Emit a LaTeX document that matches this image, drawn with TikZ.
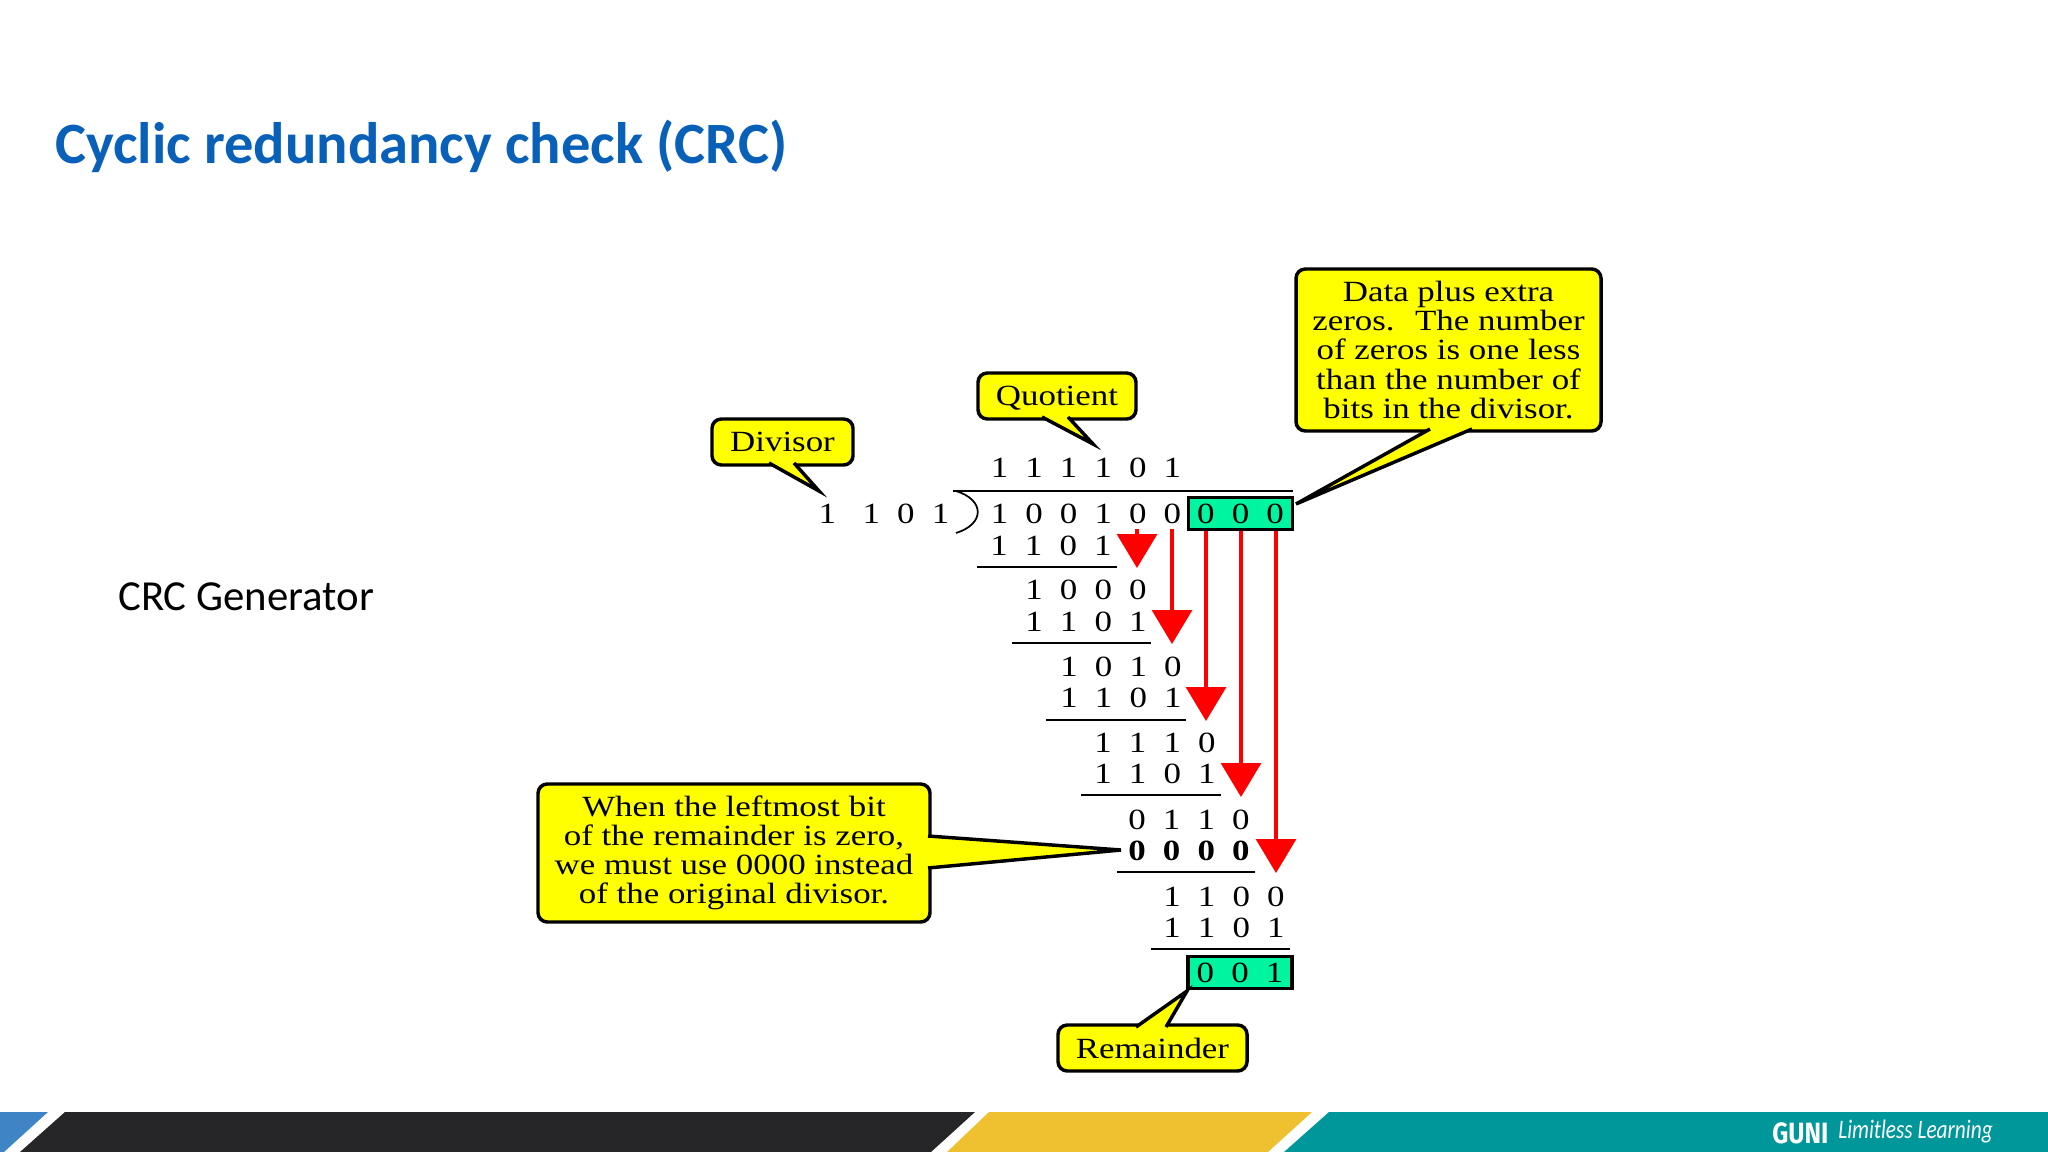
\documentclass[tikz,border=0pt]{standalone}
\usepackage{fontspec}
\usepackage{tikz}
\usetikzlibrary{arrows.meta}
\setmainfont{Carlito}
\newfontfamily\figfont[FakeStretch=1.19]{Liberation Serif}
\newfontfamily\logofont[FakeStretch=0.85]{Fira Sans}
\newfontfamily\mottofont[FakeStretch=0.8]{Carlito}
\definecolor{titleblue}{RGB}{8,96,184}
\definecolor{barblue}{RGB}{63,133,198}
\definecolor{bardark}{RGB}{38,38,40}
\definecolor{baryellow}{RGB}{239,192,48}
\definecolor{barteal}{RGB}{0,151,155}
\definecolor{bitgreen}{RGB}{0,245,160}
\definecolor{noteyellow}{RGB}{255,255,0}
\tikzset{
   bitrow/.style={inner sep=0pt,font=\figfont\fontsize{22}{24}\selectfont,execute at begin node={\spaceskip=12.85pt\relax}},
   bitbox/.style={bitrow,draw=black,line width=2.8pt,fill=bitgreen,minimum width=78pt,minimum height=24pt},
   note/.style={draw=black,line width=2.6pt,fill=noteyellow,rounded corners=7pt,inner sep=0pt,align=center,font=\figfont\fontsize{22}{21.8}\selectfont},
   tail/.style={draw=black,line width=2.6pt,fill=noteyellow,line join=miter},
   rule/.style={line width=1.5pt},
   drop/.style={red,line width=2.4pt,-{Triangle[length=25.5pt,width=30pt]}}
}
\begin{document}
\begin{tikzpicture}[x=0.75pt,y=-0.75pt]
   \useasboundingbox (0,0) rectangle (2048,1152);

   \node[anchor=west,inner sep=0pt,text=titleblue,font=\bfseries\fontsize{43.9}{46}\selectfont] (title) at (55,146) {Cyclic redundancy check (CRC)};
   \node[anchor=west,inner sep=0pt,font=\fontsize{32.1}{36}\selectfont] (side) at (118,597) {CRC Generator};

   \fill[barblue] (0,1112) -- (48,1112) -- (4,1152) -- (0,1152) -- cycle;
   \fill[bardark] (65,1112) -- (975,1112) -- (931,1152) -- (20,1152) -- cycle;
   \fill[baryellow] (989,1112) -- (1312,1112) -- (1268,1152) -- (947,1152) -- cycle;
   \fill[barteal] (1329,1112) -- (2048,1112) -- (2048,1152) -- (1284,1152) -- cycle;
   \node[anchor=west,inner sep=0pt,text=white,font=\logofont\bfseries\fontsize{22}{24}\selectfont] (guni) at (1772,1133) {GUNI};
   \node[anchor=west,inner sep=0pt,text=white,font=\mottofont\itshape\fontsize{20}{22}\selectfont] (motto) at (1838,1132) {Limitless Learning};

   \node[bitrow] (quotient) at (1086,468) {1 1 1 1 0 1};
   \node[bitrow] (divisor) at (884,514) {1\hspace{7pt} 1 0 1};
   \node[bitrow] (dividend) at (1086,514) {1 0 0 1 0 0};
   \node[bitrow] (sub1) at (1051,546) {1 1 0 1};
   \node[bitrow] (rem1) at (1086,590) {1 0 0 0};
   \node[bitrow] (sub2) at (1086,622) {1 1 0 1};
   \node[bitrow] (rem2) at (1121,667) {1 0 1 0};
   \node[bitrow] (sub3) at (1121,698) {1 1 0 1};
   \node[bitrow] (rem3) at (1155,743) {1 1 1 0};
   \node[bitrow] (sub4) at (1155,774) {1 1 0 1};
   \node[bitrow] (rem4) at (1189,820) {0 1 1 0};
   \node[bitrow] (sub5) at (1189,851) {\bfseries 0 0 0 0};
   \node[bitrow] (rem5) at (1224,897) {1 1 0 0};
   \node[bitrow] (sub6) at (1224,928) {1 1 0 1};

   \draw[rule] (953,491) -- (1293,491);
   \draw[line width=1.3pt] (956,491) .. controls (985,500) and (985,524) .. (956,533);
   \draw[rule] (977,567) -- (1117,567);
   \draw[rule] (1012,643) -- (1151,643);
   \draw[rule] (1046,720) -- (1186,720);
   \draw[rule] (1081,795) -- (1221,795);
   \draw[rule] (1117,872) -- (1255,872);
   \draw[rule] (1151,949) -- (1290,949);

   \coordinate (start1) at (1137,529);
   \coordinate (start2) at (1172,529);
   \coordinate (start3) at (1206,529);
   \coordinate (start4) at (1241,529);
   \coordinate (start5) at (1276,529);
   \coordinate (end1) at (1137,568);
   \coordinate (end2) at (1172,644);
   \coordinate (end3) at (1206,721);
   \coordinate (end4) at (1241,797);
   \coordinate (end5) at (1276,873);
   \draw[drop] (start1) -- (end1);
   \draw[drop] (start2) -- (end2);
   \draw[drop] (start3) -- (end3);
   \draw[drop] (start4) -- (end4);
   \draw[drop] (start5) -- (end5);

   \node[bitbox] (zeros) at (1240.5,513.5) {0 0 0};
   \node[bitbox] (crc) at (1240,972.5) {0 0 1};

   \node[note,text depth=0pt,minimum width=141*0.75pt,minimum height=46*0.75pt] (divnote) at (782.5,442) {Divisor};
   \node[note,text depth=0pt,minimum width=158*0.75pt,minimum height=46*0.75pt] (quonote) at (1057,396) {Quotient};
   \node[note,minimum width=305*0.75pt,minimum height=162*0.75pt] (datanote) at (1448.5,350) {Data plus extra\\zeros.~ The number\\of zeros is one less\\than the number of\\bits in the divisor.};
   \node[note,minimum width=392*0.75pt,minimum height=138*0.75pt] (leftnote) at (734,853) {When the leftmost bit\\of the remainder is zero,\\we must use 0000 instead\\of the original divisor.};
   \node[note,text depth=0pt,minimum width=189*0.75pt,minimum height=46*0.75pt] (remnote) at (1152.5,1048) {Remainder};

   \coordinate (divtip) at (819,491);
   \coordinate (quotip) at (1093,444);
   \coordinate (datatip) at (1296,504);
   \coordinate (lefttip) at (1121,850);
   \coordinate (remtip) at (1187,991);
   \draw[tail] (769,463) -- (divtip) -- (794,463);
   \draw[tail] (1042,417) -- (quotip) -- (1068,417);
   \draw[tail] (1430,429) -- (datatip) -- (1472,429);
   \draw[tail] (928,836) -- (lefttip) -- (928,868);
   \draw[tail] (1136,1027) -- (remtip) -- (1166,1027);
\end{tikzpicture}
\end{document}
